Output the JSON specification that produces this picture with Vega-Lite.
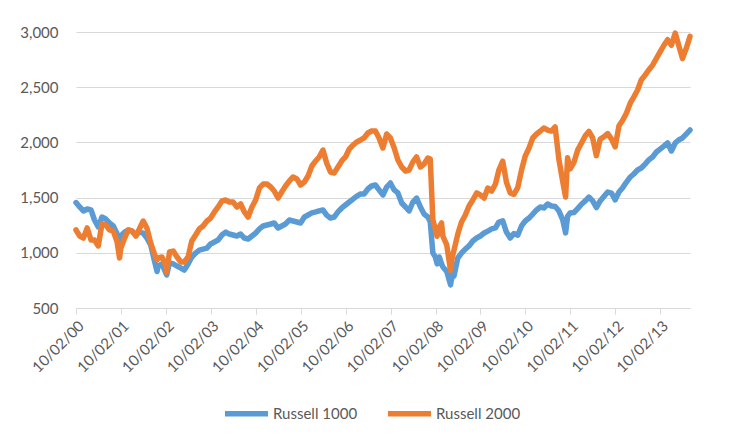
{
  "$schema": "https://vega.github.io/schema/vega-lite/v6.json",
  "width": 614,
  "height": 276,
  "autosize": {"type": "none"},
  "padding": {"left": 76, "top": 32, "right": 39, "bottom": 138},
  "background": "white",
  "config": {
    "view": {"stroke": null},
    "font": "Lato",
    "axis": {"labelColor": "#595959", "labelFont": "Lato"}
  },
  "data": {
    "values": [
      {"date": "2000-10-02", "Russell 1000": 1455, "Russell 2000": 1207},
      {"date": "2000-11-01", "Russell 1000": 1415, "Russell 2000": 1152},
      {"date": "2000-12-01", "Russell 1000": 1379, "Russell 2000": 1134},
      {"date": "2001-01-01", "Russell 1000": 1397, "Russell 2000": 1225},
      {"date": "2001-02-01", "Russell 1000": 1388, "Russell 2000": 1116},
      {"date": "2001-03-01", "Russell 1000": 1297, "Russell 2000": 1116},
      {"date": "2001-04-01", "Russell 1000": 1234, "Russell 2000": 1062},
      {"date": "2001-05-01", "Russell 1000": 1324, "Russell 2000": 1261},
      {"date": "2001-06-01", "Russell 1000": 1306, "Russell 2000": 1252},
      {"date": "2001-07-01", "Russell 1000": 1270, "Russell 2000": 1207},
      {"date": "2001-08-01", "Russell 1000": 1243, "Russell 2000": 1197},
      {"date": "2001-09-01", "Russell 1000": 1170, "Russell 2000": 1100},
      {"date": "2001-09-21", "Russell 1000": 1100, "Russell 2000": 953},
      {"date": "2001-10-01", "Russell 1000": 1152, "Russell 2000": 1040},
      {"date": "2001-11-01", "Russell 1000": 1188, "Russell 2000": 1134},
      {"date": "2001-12-01", "Russell 1000": 1207, "Russell 2000": 1207},
      {"date": "2002-01-01", "Russell 1000": 1197, "Russell 2000": 1197},
      {"date": "2002-02-01", "Russell 1000": 1161, "Russell 2000": 1152},
      {"date": "2002-03-01", "Russell 1000": 1188, "Russell 2000": 1216},
      {"date": "2002-04-01", "Russell 1000": 1179, "Russell 2000": 1288},
      {"date": "2002-05-01", "Russell 1000": 1134, "Russell 2000": 1225},
      {"date": "2002-06-01", "Russell 1000": 1071, "Russell 2000": 1089},
      {"date": "2002-07-01", "Russell 1000": 930, "Russell 2000": 990},
      {"date": "2002-07-23", "Russell 1000": 830, "Russell 2000": 935},
      {"date": "2002-08-01", "Russell 1000": 880, "Russell 2000": 953},
      {"date": "2002-09-01", "Russell 1000": 899, "Russell 2000": 962},
      {"date": "2002-10-01", "Russell 1000": 820, "Russell 2000": 880},
      {"date": "2002-10-09", "Russell 1000": 800, "Russell 2000": 825},
      {"date": "2002-11-01", "Russell 1000": 908, "Russell 2000": 1007},
      {"date": "2002-12-01", "Russell 1000": 899, "Russell 2000": 1016},
      {"date": "2003-01-01", "Russell 1000": 880, "Russell 2000": 962},
      {"date": "2003-02-01", "Russell 1000": 862, "Russell 2000": 917},
      {"date": "2003-03-01", "Russell 1000": 844, "Russell 2000": 917},
      {"date": "2003-04-01", "Russell 1000": 899, "Russell 2000": 962},
      {"date": "2003-05-01", "Russell 1000": 962, "Russell 2000": 1107},
      {"date": "2003-06-01", "Russell 1000": 998, "Russell 2000": 1161},
      {"date": "2003-07-01", "Russell 1000": 1025, "Russell 2000": 1216},
      {"date": "2003-08-01", "Russell 1000": 1034, "Russell 2000": 1243},
      {"date": "2003-09-01", "Russell 1000": 1043, "Russell 2000": 1288},
      {"date": "2003-10-01", "Russell 1000": 1080, "Russell 2000": 1315},
      {"date": "2003-11-01", "Russell 1000": 1098, "Russell 2000": 1370},
      {"date": "2003-12-01", "Russell 1000": 1116, "Russell 2000": 1415},
      {"date": "2004-01-01", "Russell 1000": 1161, "Russell 2000": 1469},
      {"date": "2004-02-01", "Russell 1000": 1188, "Russell 2000": 1478},
      {"date": "2004-03-01", "Russell 1000": 1170, "Russell 2000": 1460},
      {"date": "2004-04-01", "Russell 1000": 1161, "Russell 2000": 1460},
      {"date": "2004-05-01", "Russell 1000": 1152, "Russell 2000": 1415},
      {"date": "2004-06-01", "Russell 1000": 1170, "Russell 2000": 1442},
      {"date": "2004-07-01", "Russell 1000": 1134, "Russell 2000": 1370},
      {"date": "2004-08-01", "Russell 1000": 1125, "Russell 2000": 1324},
      {"date": "2004-09-01", "Russell 1000": 1152, "Russell 2000": 1415},
      {"date": "2004-10-01", "Russell 1000": 1179, "Russell 2000": 1478},
      {"date": "2004-11-01", "Russell 1000": 1216, "Russell 2000": 1587},
      {"date": "2004-12-01", "Russell 1000": 1243, "Russell 2000": 1623},
      {"date": "2005-01-01", "Russell 1000": 1252, "Russell 2000": 1623},
      {"date": "2005-02-01", "Russell 1000": 1261, "Russell 2000": 1596},
      {"date": "2005-03-01", "Russell 1000": 1270, "Russell 2000": 1560},
      {"date": "2005-04-01", "Russell 1000": 1225, "Russell 2000": 1496},
      {"date": "2005-05-01", "Russell 1000": 1243, "Russell 2000": 1551},
      {"date": "2005-06-01", "Russell 1000": 1261, "Russell 2000": 1605},
      {"date": "2005-07-01", "Russell 1000": 1297, "Russell 2000": 1650},
      {"date": "2005-08-01", "Russell 1000": 1288, "Russell 2000": 1687},
      {"date": "2005-09-01", "Russell 1000": 1279, "Russell 2000": 1669},
      {"date": "2005-10-01", "Russell 1000": 1270, "Russell 2000": 1614},
      {"date": "2005-11-01", "Russell 1000": 1324, "Russell 2000": 1641},
      {"date": "2005-12-01", "Russell 1000": 1342, "Russell 2000": 1696},
      {"date": "2006-01-01", "Russell 1000": 1361, "Russell 2000": 1786},
      {"date": "2006-02-01", "Russell 1000": 1370, "Russell 2000": 1832},
      {"date": "2006-03-01", "Russell 1000": 1379, "Russell 2000": 1868},
      {"date": "2006-04-01", "Russell 1000": 1388, "Russell 2000": 1931},
      {"date": "2006-05-01", "Russell 1000": 1342, "Russell 2000": 1813},
      {"date": "2006-06-01", "Russell 1000": 1315, "Russell 2000": 1732},
      {"date": "2006-07-01", "Russell 1000": 1324, "Russell 2000": 1723},
      {"date": "2006-08-01", "Russell 1000": 1370, "Russell 2000": 1777},
      {"date": "2006-09-01", "Russell 1000": 1406, "Russell 2000": 1832},
      {"date": "2006-10-01", "Russell 1000": 1433, "Russell 2000": 1868},
      {"date": "2006-11-01", "Russell 1000": 1460, "Russell 2000": 1940},
      {"date": "2006-12-01", "Russell 1000": 1487, "Russell 2000": 1976},
      {"date": "2007-01-01", "Russell 1000": 1514, "Russell 2000": 2004},
      {"date": "2007-02-01", "Russell 1000": 1533, "Russell 2000": 2022},
      {"date": "2007-03-01", "Russell 1000": 1533, "Russell 2000": 2040},
      {"date": "2007-04-01", "Russell 1000": 1578, "Russell 2000": 2085},
      {"date": "2007-05-01", "Russell 1000": 1605, "Russell 2000": 2103},
      {"date": "2007-06-01", "Russell 1000": 1614, "Russell 2000": 2103},
      {"date": "2007-07-01", "Russell 1000": 1569, "Russell 2000": 2040},
      {"date": "2007-08-01", "Russell 1000": 1524, "Russell 2000": 1949},
      {"date": "2007-09-01", "Russell 1000": 1596, "Russell 2000": 2076},
      {"date": "2007-10-01", "Russell 1000": 1632, "Russell 2000": 2040},
      {"date": "2007-11-01", "Russell 1000": 1569, "Russell 2000": 1949},
      {"date": "2007-12-01", "Russell 1000": 1542, "Russell 2000": 1841},
      {"date": "2008-01-01", "Russell 1000": 1451, "Russell 2000": 1777},
      {"date": "2008-02-01", "Russell 1000": 1415, "Russell 2000": 1741},
      {"date": "2008-03-01", "Russell 1000": 1379, "Russell 2000": 1750},
      {"date": "2008-04-01", "Russell 1000": 1460, "Russell 2000": 1823},
      {"date": "2008-05-01", "Russell 1000": 1496, "Russell 2000": 1868},
      {"date": "2008-06-01", "Russell 1000": 1415, "Russell 2000": 1777},
      {"date": "2008-07-01", "Russell 1000": 1351, "Russell 2000": 1805},
      {"date": "2008-08-01", "Russell 1000": 1324, "Russell 2000": 1859},
      {"date": "2008-08-20", "Russell 1000": 1280, "Russell 2000": 1850},
      {"date": "2008-09-10", "Russell 1000": 1000, "Russell 2000": 1300},
      {"date": "2008-10-01", "Russell 1000": 960, "Russell 2000": 1207},
      {"date": "2008-10-15", "Russell 1000": 900, "Russell 2000": 1150},
      {"date": "2008-11-01", "Russell 1000": 962, "Russell 2000": 1230},
      {"date": "2008-11-20", "Russell 1000": 900, "Russell 2000": 1270},
      {"date": "2008-12-01", "Russell 1000": 871, "Russell 2000": 1150},
      {"date": "2009-01-01", "Russell 1000": 830, "Russell 2000": 1071},
      {"date": "2009-02-01", "Russell 1000": 710, "Russell 2000": 840},
      {"date": "2009-02-15", "Russell 1000": 800, "Russell 2000": 960},
      {"date": "2009-03-01", "Russell 1000": 790, "Russell 2000": 1025},
      {"date": "2009-04-01", "Russell 1000": 953, "Russell 2000": 1170},
      {"date": "2009-05-01", "Russell 1000": 998, "Russell 2000": 1279},
      {"date": "2009-06-01", "Russell 1000": 1034, "Russell 2000": 1342},
      {"date": "2009-07-01", "Russell 1000": 1062, "Russell 2000": 1424},
      {"date": "2009-08-01", "Russell 1000": 1107, "Russell 2000": 1478},
      {"date": "2009-09-01", "Russell 1000": 1134, "Russell 2000": 1542},
      {"date": "2009-10-01", "Russell 1000": 1152, "Russell 2000": 1524},
      {"date": "2009-11-01", "Russell 1000": 1179, "Russell 2000": 1496},
      {"date": "2009-12-01", "Russell 1000": 1197, "Russell 2000": 1587},
      {"date": "2010-01-01", "Russell 1000": 1216, "Russell 2000": 1560},
      {"date": "2010-02-01", "Russell 1000": 1225, "Russell 2000": 1623},
      {"date": "2010-03-01", "Russell 1000": 1279, "Russell 2000": 1750},
      {"date": "2010-04-01", "Russell 1000": 1290, "Russell 2000": 1830},
      {"date": "2010-05-01", "Russell 1000": 1188, "Russell 2000": 1641},
      {"date": "2010-06-01", "Russell 1000": 1134, "Russell 2000": 1542},
      {"date": "2010-07-01", "Russell 1000": 1175, "Russell 2000": 1530},
      {"date": "2010-08-01", "Russell 1000": 1160, "Russell 2000": 1590},
      {"date": "2010-09-01", "Russell 1000": 1243, "Russell 2000": 1750},
      {"date": "2010-10-01", "Russell 1000": 1288, "Russell 2000": 1877},
      {"date": "2010-11-01", "Russell 1000": 1315, "Russell 2000": 1949},
      {"date": "2010-12-01", "Russell 1000": 1351, "Russell 2000": 2040},
      {"date": "2011-01-01", "Russell 1000": 1388, "Russell 2000": 2076},
      {"date": "2011-02-01", "Russell 1000": 1415, "Russell 2000": 2103},
      {"date": "2011-03-01", "Russell 1000": 1406, "Russell 2000": 2130},
      {"date": "2011-04-01", "Russell 1000": 1442, "Russell 2000": 2112},
      {"date": "2011-05-01", "Russell 1000": 1424, "Russell 2000": 2103},
      {"date": "2011-06-01", "Russell 1000": 1420, "Russell 2000": 2140},
      {"date": "2011-07-01", "Russell 1000": 1380, "Russell 2000": 1850},
      {"date": "2011-08-01", "Russell 1000": 1300, "Russell 2000": 1650},
      {"date": "2011-08-25", "Russell 1000": 1180, "Russell 2000": 1505},
      {"date": "2011-09-10", "Russell 1000": 1330, "Russell 2000": 1860},
      {"date": "2011-10-01", "Russell 1000": 1361, "Russell 2000": 1760},
      {"date": "2011-11-01", "Russell 1000": 1365, "Russell 2000": 1820},
      {"date": "2011-12-01", "Russell 1000": 1400, "Russell 2000": 1930},
      {"date": "2012-01-01", "Russell 1000": 1440, "Russell 2000": 1995},
      {"date": "2012-02-01", "Russell 1000": 1470, "Russell 2000": 2060},
      {"date": "2012-03-01", "Russell 1000": 1505, "Russell 2000": 2100},
      {"date": "2012-04-01", "Russell 1000": 1470, "Russell 2000": 2040},
      {"date": "2012-05-01", "Russell 1000": 1410, "Russell 2000": 1880},
      {"date": "2012-06-01", "Russell 1000": 1470, "Russell 2000": 2030},
      {"date": "2012-07-01", "Russell 1000": 1510, "Russell 2000": 2050},
      {"date": "2012-08-01", "Russell 1000": 1550, "Russell 2000": 2080},
      {"date": "2012-09-01", "Russell 1000": 1540, "Russell 2000": 2030},
      {"date": "2012-10-01", "Russell 1000": 1480, "Russell 2000": 1960},
      {"date": "2012-11-01", "Russell 1000": 1550, "Russell 2000": 2150},
      {"date": "2012-12-01", "Russell 1000": 1590, "Russell 2000": 2200},
      {"date": "2013-01-01", "Russell 1000": 1641, "Russell 2000": 2266},
      {"date": "2013-02-01", "Russell 1000": 1687, "Russell 2000": 2357},
      {"date": "2013-03-01", "Russell 1000": 1714, "Russell 2000": 2411},
      {"date": "2013-04-01", "Russell 1000": 1750, "Russell 2000": 2475},
      {"date": "2013-05-01", "Russell 1000": 1768, "Russell 2000": 2565},
      {"date": "2013-06-01", "Russell 1000": 1804, "Russell 2000": 2610},
      {"date": "2013-07-01", "Russell 1000": 1841, "Russell 2000": 2656},
      {"date": "2013-08-01", "Russell 1000": 1868, "Russell 2000": 2700},
      {"date": "2013-09-01", "Russell 1000": 1913, "Russell 2000": 2760},
      {"date": "2013-10-01", "Russell 1000": 1940, "Russell 2000": 2820},
      {"date": "2013-11-01", "Russell 1000": 1967, "Russell 2000": 2880},
      {"date": "2013-12-01", "Russell 1000": 1995, "Russell 2000": 2930},
      {"date": "2014-01-01", "Russell 1000": 1922, "Russell 2000": 2880},
      {"date": "2014-02-01", "Russell 1000": 1995, "Russell 2000": 2990},
      {"date": "2014-03-01", "Russell 1000": 2022, "Russell 2000": 2880},
      {"date": "2014-04-01", "Russell 1000": 2040, "Russell 2000": 2760},
      {"date": "2014-05-01", "Russell 1000": 2076, "Russell 2000": 2850},
      {"date": "2014-06-01", "Russell 1000": 2112, "Russell 2000": 2960}
    ],
    "format": {"parse": {"date": "date:'%Y-%m-%d'"}}
  },
  "transform": [
    {"fold": ["Russell 1000", "Russell 2000"], "as": ["series", "value"]}
  ],
  "mark": {"type": "line", "strokeWidth": 5.5, "strokeJoin": "round", "strokeCap": "round"},
  "encoding": {
    "x": {
      "field": "date",
      "type": "temporal",
      "scale": {
        "domain": [
          {"year": 2000, "month": 10, "date": 2},
          {"year": 2014, "month": 6, "date": 1}
        ]
      },
      "axis": {
        "title": null,
        "values": [
          {"year": 2000, "month": 10, "date": 2},
          {"year": 2001, "month": 10, "date": 2},
          {"year": 2002, "month": 10, "date": 2},
          {"year": 2003, "month": 10, "date": 2},
          {"year": 2004, "month": 10, "date": 2},
          {"year": 2005, "month": 10, "date": 2},
          {"year": 2006, "month": 10, "date": 2},
          {"year": 2007, "month": 10, "date": 2},
          {"year": 2008, "month": 10, "date": 2},
          {"year": 2009, "month": 10, "date": 2},
          {"year": 2010, "month": 10, "date": 2},
          {"year": 2011, "month": 10, "date": 2},
          {"year": 2012, "month": 10, "date": 2},
          {"year": 2013, "month": 10, "date": 2}
        ],
        "format": "%m/%d/%y",
        "labelAngle": -45,
        "labelFontSize": 15,
        "labelPadding": 4,
        "labelOverlap": false,
        "labelFlush": false,
        "grid": false,
        "domainColor": "#D9D9D9",
        "domainWidth": 1,
        "tickColor": "#D9D9D9",
        "tickSize": 6
      }
    },
    "y": {
      "field": "value",
      "type": "quantitative",
      "scale": {"domain": [500, 3000], "nice": false, "zero": false},
      "axis": {
        "title": null,
        "values": [500, 1000, 1500, 2000, 2500, 3000],
        "format": ",.0f",
        "labelFontSize": 15,
        "labelPadding": 18,
        "domain": false,
        "ticks": false,
        "gridColor": "#D9D9D9",
        "gridWidth": 1
      }
    },
    "color": {
      "field": "series",
      "type": "nominal",
      "scale": {"domain": ["Russell 1000", "Russell 2000"], "range": ["#5B9BD5", "#ED7D31"]},
      "legend": {
        "title": null,
        "orient": "none",
        "direction": "horizontal",
        "legendX": 146,
        "legendY": 357,
        "symbolType": "stroke",
        "symbolSize": 1850,
        "symbolStrokeWidth": 5.5,
        "labelFontSize": 15,
        "labelColor": "#595959",
        "labelOffset": 2,
        "columnPadding": 18
      }
    }
  }
}
